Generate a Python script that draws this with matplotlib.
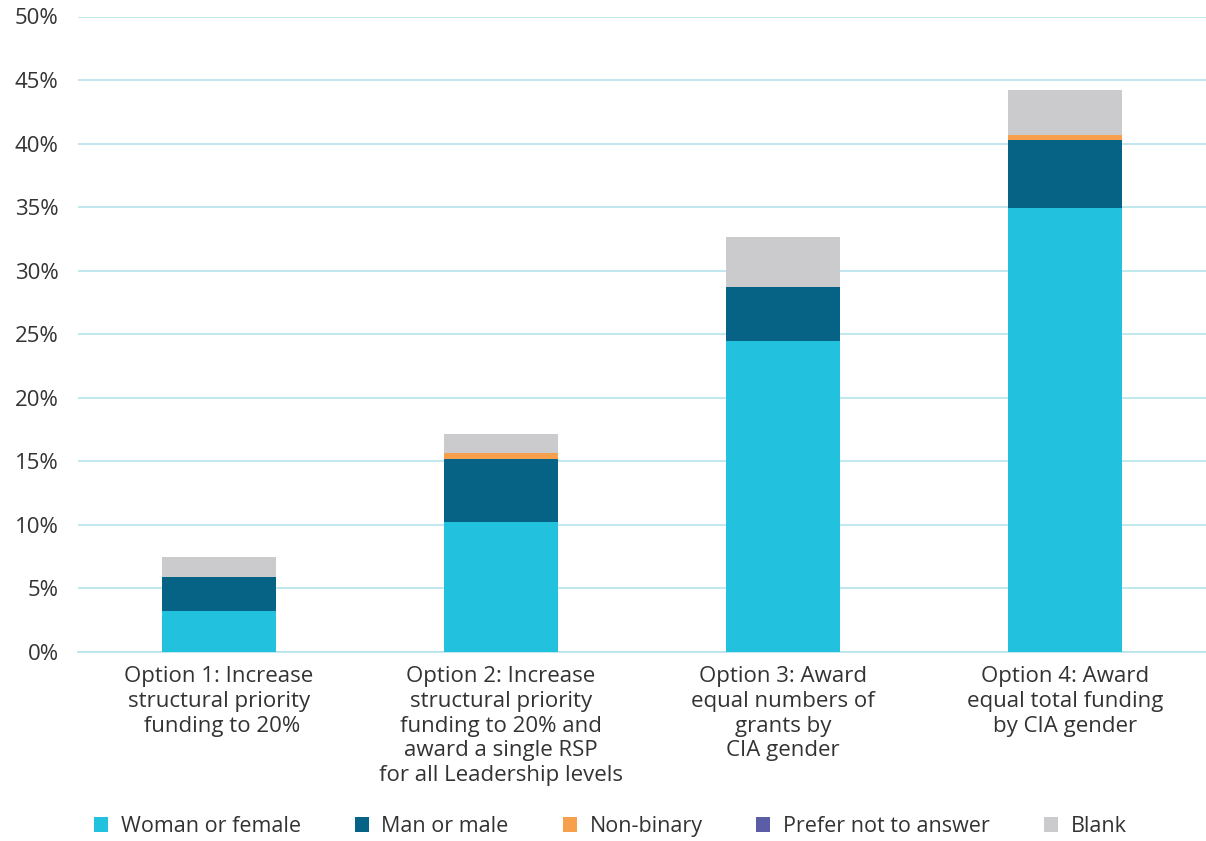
import matplotlib
matplotlib.use("Agg")
import matplotlib.pyplot as plt
from matplotlib.patches import Patch
import numpy as np

# Data (percent of respondents)
categories = [
    "Option 1: Increase\nstructural priority\n funding to 20%",
    "Option 2: Increase\nstructural priority\nfunding to 20% and\naward a single RSP\nfor all Leadership levels",
    "Option 3: Award\nequal numbers of\ngrants by\nCIA gender",
    "Option 4: Award\nequal total funding\nby CIA gender",
]
woman = [3.2, 10.2, 24.5, 34.9]
man = [2.7, 5.0, 4.25, 5.4]
non_binary = [0.0, 0.45, 0.0, 0.4]
prefer_not = [0.0, 0.0, 0.0, 0.0]
blank = [1.55, 1.5, 3.9, 3.5]

series = ["Woman or female", "Man or male", "Non-binary", "Prefer not to answer", "Blank"]
colors = ["#22C1DD", "#066385", "#F6A04D", "#5B5EA6", "#CBCBCD"]

plt.rcParams['font.family'] = ['Open Sans', 'DejaVu Sans']
text_color = "#333333"

fig = plt.figure(figsize=(12.06, 8.41), dpi=100)
ax = fig.add_axes([78 / 1206, 189 / 841, 1128 / 1206, 635.5 / 841])

x = np.arange(len(categories))
bottom = np.zeros(len(categories))
for vals, c in zip([woman, man, non_binary, prefer_not, blank], colors):
    ax.bar(x, vals, width=0.405, bottom=bottom, color=c, zorder=3)
    bottom += np.array(vals)

# Axes styling
ax.set_xlim(-0.5, 3.5)
ax.set_ylim(0, 50)
ax.set_yticks(np.arange(0, 51, 5))
ax.set_yticklabels([f"{v}%" for v in range(0, 51, 5)])
ax.yaxis.grid(True, color="#B5E3EC", linewidth=1.2, zorder=0)
ax.set_axisbelow(True)
for s in ["top", "right", "left"]:
    ax.spines[s].set_visible(False)
ax.spines["bottom"].set_color("#B5E3EC")
ax.spines["bottom"].set_linewidth(1.2)
ax.tick_params(axis="y", length=0, pad=14, labelsize=16, labelcolor=text_color)
ax.tick_params(axis="x", length=0, pad=10, labelsize=16, labelcolor=text_color)
ax.set_xticks(x)
ax.set_xticklabels(categories, linespacing=1.24)

# Legend
handles = [Patch(facecolor=c, edgecolor="none") for c in colors]
fig.legend(handles, series, loc="center", bbox_to_anchor=(0.506, 0.017), ncol=5,
           frameon=False, fontsize=15.5, labelcolor=text_color, handlelength=0.65,
           handleheight=0.65, handletextpad=0.6, columnspacing=2.5)

fig.savefig("out.png", dpi=100)
